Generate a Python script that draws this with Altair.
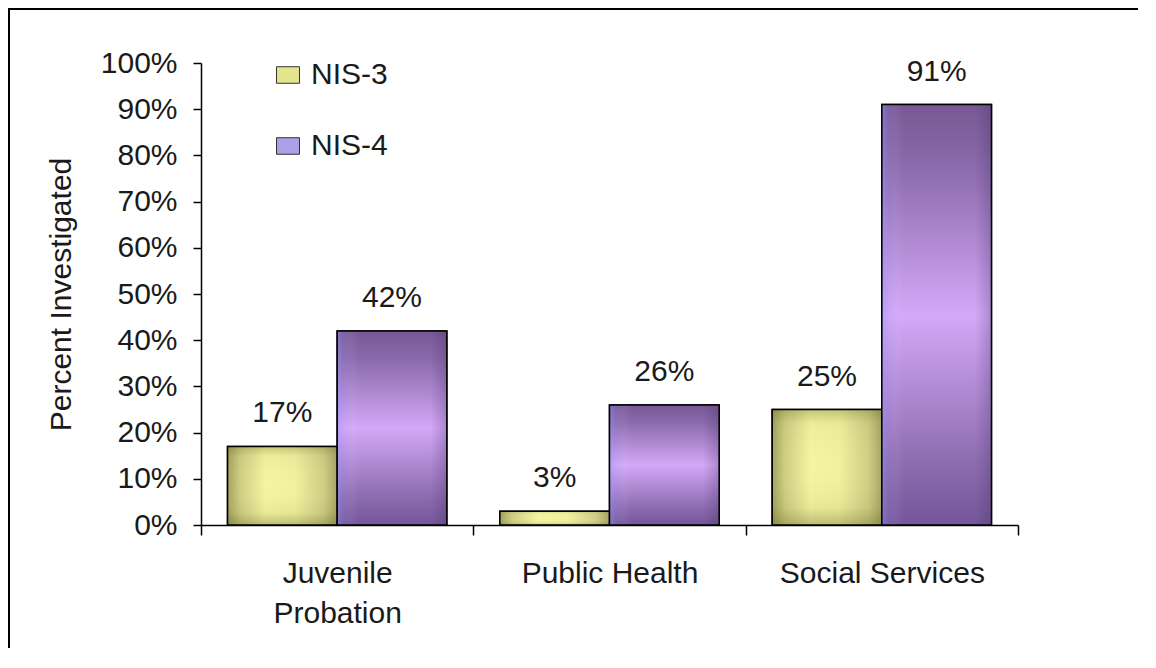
import altair as alt
import pandas as pd

categories = ["Juvenile Probation", "Public Health", "Social Services"]
series = ["NIS-3", "NIS-4"]
nis3_values = [17, 3, 25]
nis4_values = [42, 26, 91]
y_ticks = [0, 10, 20, 30, 40, 50, 60, 70, 80, 90, 100]
legend_colors = ["#e4e48e", "#aaa0e6"]

rows = []
for c, a, b in zip(categories, nis3_values, nis4_values):
    rows.append({"category": c, "series": "NIS-3", "value": a})
    rows.append({"category": c, "series": "NIS-4", "value": b})
df = pd.DataFrame(rows)
df["label"] = df["value"].astype(str) + "%"

FONT = "Liberation Sans"
FS = 30
W, H = 817, 462


def grad(stops, horizontal=True):
    return alt.LinearGradient(
        gradient="linear",
        stops=[alt.GradientStop(color=c, offset=o) for o, c in stops],
        x1=0, x2=1 if horizontal else 0, y1=0, y2=0 if horizontal else 1,
    )


yellow_h = grad([(0, "#a3a35e"), (0.12, "#cfcf84"), (0.35, "#f4f4a2"),
                 (0.62, "#f0f09e"), (0.88, "#cdcd85"), (1, "#a6a664")])
yellow_v = grad([(0, "rgba(90,90,30,0.30)"), (0.12, "rgba(90,90,30,0.05)"),
                 (0.5, "rgba(255,255,200,0.0)"), (0.85, "rgba(90,90,30,0.08)"),
                 (1, "rgba(90,90,30,0.35)")], horizontal=False)
purple_v = grad([(0, "#785894"), (0.15, "#8c6aac"), (0.5, "#d4a8f8"),
                 (0.85, "#8e6cb0"), (1, "#74569a")], horizontal=False)
purple_h = grad([(0, "rgba(150,150,255,0.45)"), (0.06, "rgba(150,150,255,0.15)"),
                 (0.2, "rgba(255,255,255,0.0)"), (0.85, "rgba(60,40,90,0.0)"),
                 (1, "rgba(60,40,90,0.25)")])

x_enc = alt.X(
    "category:N", sort=categories,
    scale=alt.Scale(paddingInner=0, paddingOuter=0),
    axis=alt.Axis(
        title=None, tickBand="extent", tickSize=10, labelPadding=23,
        labelAngle=0, labelLineHeight=40, labelBaseline="top", labelLimit=0,
        labelExpr="datum.label == 'Juvenile Probation' ? ['Juvenile', 'Probation'] : datum.label",
    ),
)
xo_enc = alt.XOffset("series:N", scale=alt.Scale(domain=series, paddingOuter=0.242, paddingInner=0))
y_enc = alt.Y(
    "value:Q", scale=alt.Scale(domain=[0, 100], nice=False),
    axis=alt.Axis(
        values=y_ticks, labelExpr="datum.value + '%'", title="Percent Investigated",
        grid=False, tickSize=8, labelPadding=16, titleX=-125, titleY=H / 2,
        titleAngle=-90, titleAlign="center", titleBaseline="bottom",
    ),
)

base = alt.Chart(df)

bars = base.mark_bar(stroke="black", strokeWidth=1.5).encode(
    x=x_enc, xOffset=xo_enc, y=y_enc,
    color=alt.Color(
        "series:N", scale=alt.Scale(domain=series, range=legend_colors),
        legend=alt.Legend(
            title=None, orient="none", legendX=72, legendY=-3, direction="vertical",
            symbolType="M-1,-0.72H1V0.72H-1Z", symbolSize=529,
            symbolStrokeColor="#333333", symbolStrokeWidth=1, symbolOpacity=1,
            labelFontSize=FS, labelFont=FONT, labelColor="#1a1a1a",
            labelOffset=8, rowPadding=41, padding=0,
        ),
    ),
)

y1 = base.transform_filter(alt.datum.series == "NIS-3").mark_bar(fill=yellow_h).encode(
    x=x_enc, xOffset=xo_enc, y=y_enc)
y2 = base.transform_filter(alt.datum.series == "NIS-3").mark_bar(
    fill=yellow_v, stroke="black", strokeWidth=1.5).encode(x=x_enc, xOffset=xo_enc, y=y_enc)
p1 = base.transform_filter(alt.datum.series == "NIS-4").mark_bar(fill=purple_v).encode(
    x=x_enc, xOffset=xo_enc, y=y_enc)
p2 = base.transform_filter(alt.datum.series == "NIS-4").mark_bar(
    fill=purple_h, stroke="black", strokeWidth=1.5).encode(x=x_enc, xOffset=xo_enc, y=y_enc)

labels = base.mark_text(
    font=FONT, fontSize=FS, color="#1a1a1a", baseline="alphabetic", dy=-24
).encode(x=x_enc, xOffset=xo_enc, y=y_enc, text="label:N")

frame_data = alt.Data(values=[{"k": 1}])
top_bar = alt.Chart(frame_data).mark_rect(color="black").encode(
    x=alt.value(-193), x2=alt.value(937), y=alt.value(-55), y2=alt.value(-53))
left_bar = alt.Chart(frame_data).mark_rect(color="black").encode(
    x=alt.value(-193), x2=alt.value(-191), y=alt.value(-55), y2=alt.value(585))

chart = alt.layer(bars, y1, y2, p1, p2, labels, top_bar, left_bar).properties(
    width=W, height=H,
    padding={"left": 193, "top": 55, "right": 120, "bottom": 125},
    autosize=alt.AutoSizeParams(type="none"),
    background="white",
).configure_axis(
    labelFont=FONT, titleFont=FONT, labelFontSize=FS, titleFontSize=FS,
    titleFontWeight="normal", labelColor="#1a1a1a", titleColor="#1a1a1a",
    domainColor="black", tickColor="black", domainWidth=1.5, tickWidth=1.5,
).configure_view(stroke=None)

chart.save("out.html", embed_options={"renderer": "svg", "actions": False})
